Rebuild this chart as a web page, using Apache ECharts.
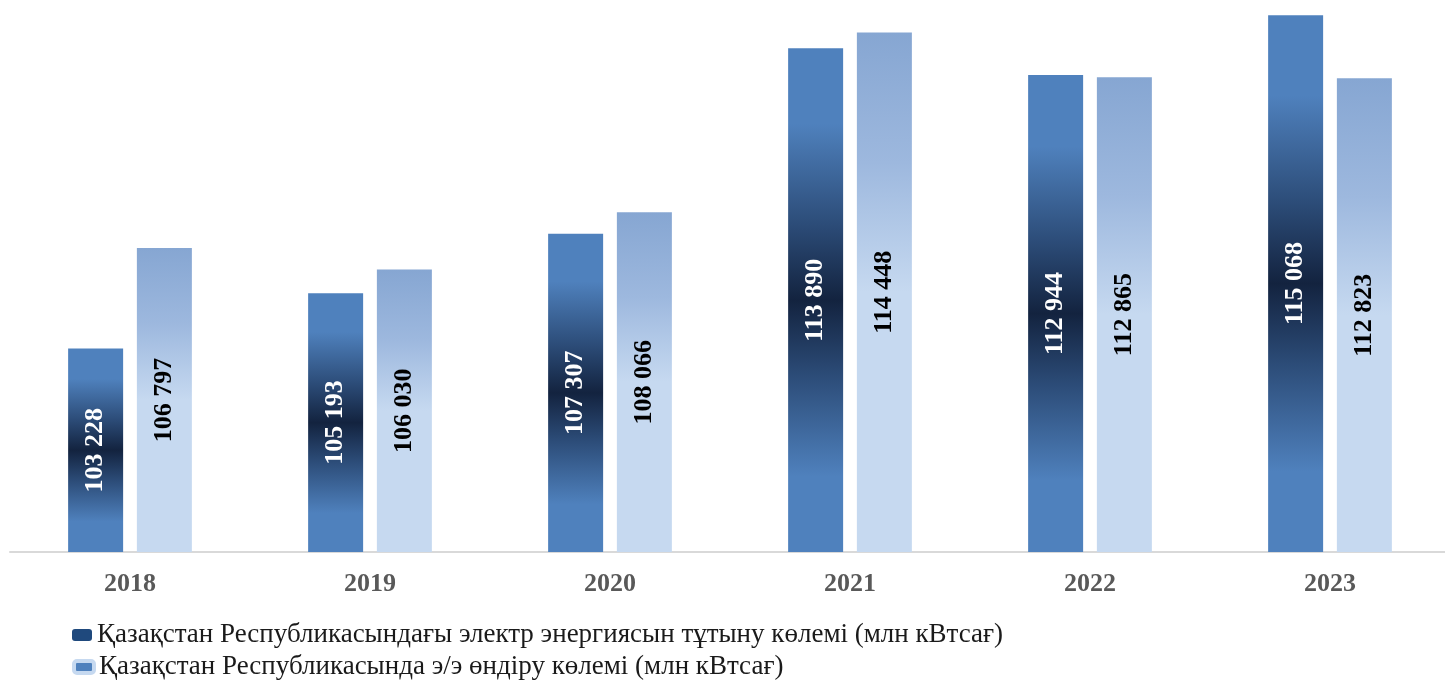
<!DOCTYPE html>
<html><head><meta charset="utf-8">
<script src="https://cdn.jsdelivr.net/npm/echarts@6/dist/echarts.min.js"></script>
<style>html,body{margin:0;padding:0;background:#fff}#c{width:1445px;height:682px}</style>
</head><body><div id="c"></div>
<script>
const categories = ['2018','2019','2020','2021','2022','2023'];
const consumption = [103228, 105193, 107307, 113890, 112944, 115068];
const production = [106797, 106030, 108066, 114448, 112865, 112823];
const seriesNames = ['Қазақстан Республикасындағы электр энергиясын тұтыну көлемі (млн кВтсағ)',
                     'Қазақстан Республикасында э/э өндіру көлемі (млн кВтсағ)'];
const fmt = v => String(v).replace(/\B(?=(\d{3})+(?!\d))/g, ' ');
const chart = echarts.init(document.getElementById('c'));
const serif = '"Liberation Serif","Times New Roman",serif';
const legendText = {fontFamily: serif, fontSize: 27, color: '#1a1a1a', lineHeight: 30};
chart.setOption({
  animation: false,
  grid: {left: 10, right: -5, top: 3, bottom: 130, outerBoundsMode: 'none', containLabel: false},
  legend: [
    {left: 72, top: 620, padding: 0, itemWidth: 20, itemHeight: 12, itemGap: 8,
     textStyle: legendText, selectedMode: false,
     data: [{name: seriesNames[0], icon: 'roundRect', itemStyle: {color: '#1f497d'}}]},
    {left: 72, top: 652, padding: 0, itemWidth: 20, itemHeight: 12, itemGap: 8,
     textStyle: legendText, selectedMode: false,
     data: [{name: seriesNames[1], icon: 'roundRect', itemStyle: {color: '#4f81bd', borderColor: '#c6d9f0', borderWidth: 4}}]}
  ],
  xAxis: {
    type: 'category', data: categories,
    axisLine: {lineStyle: {color: '#d9d9d9', width: 2}},
    axisTick: {show: false},
    axisLabel: {fontFamily: serif, fontWeight: 'bold', fontSize: 26, color: '#595959', margin: 19}
  },
  yAxis: {type: 'value', min: 96000, max: 115500, show: false, splitLine: {show: false}},
  series: [
    {
      name: seriesNames[0], type: 'bar', data: consumption, barWidth: 55, barGap: '25%',
      itemStyle: {color: new echarts.graphic.LinearGradient(0, 0, 0, 1, [
        {offset: 0, color: '#4f81bd'}, {offset: 0.15, color: '#4f81bd'},
        {offset: 0.35, color: '#2c4c78'}, {offset: 0.5, color: '#13233f'},
        {offset: 0.65, color: '#2c4c78'}, {offset: 0.85, color: '#4f81bd'}, {offset: 1, color: '#4f81bd'}])},
      label: {show: true, position: 'inside', rotate: 90, formatter: p => fmt(p.value),
        fontFamily: serif, fontWeight: 'bold', fontSize: 26, color: '#ffffff'}
    },
    {
      name: seriesNames[1], type: 'bar', data: production, barWidth: 55,
      itemStyle: {color: new echarts.graphic.LinearGradient(0, 0, 0, 1, [
        {offset: 0, color: '#86a6d2'}, {offset: 0.25, color: '#9db8de'},
        {offset: 0.5, color: '#c6d9f0'}, {offset: 1, color: '#c6d9f0'}])},
      label: {show: true, position: 'inside', rotate: 90, formatter: p => fmt(p.value),
        fontFamily: serif, fontWeight: 'bold', fontSize: 26, color: '#000000'}
    }
  ]
});
</script></body></html>
